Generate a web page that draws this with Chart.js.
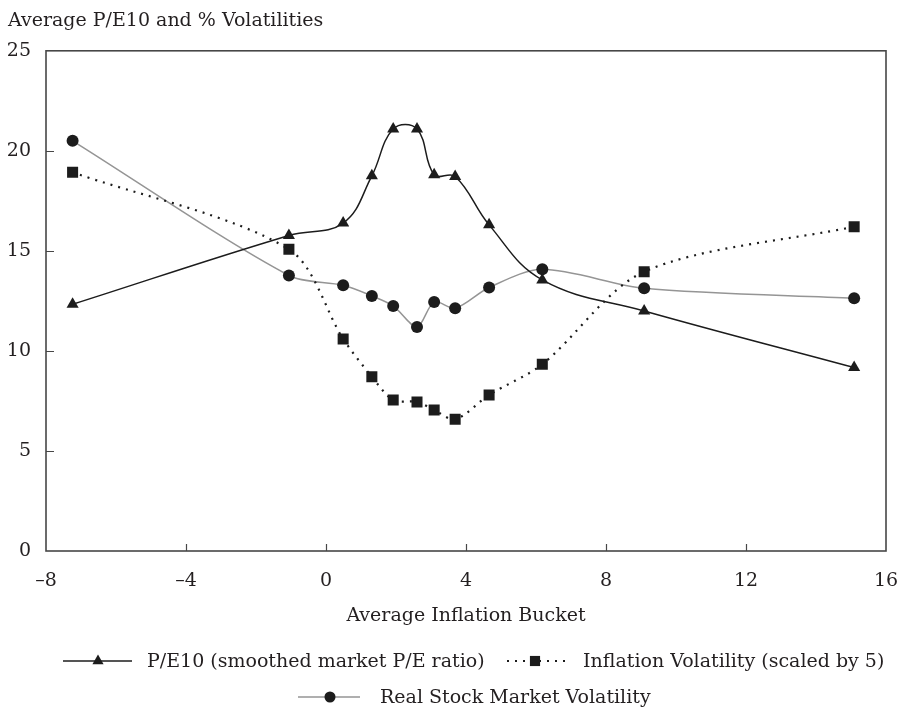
<!DOCTYPE html>
<html>
<head>
<meta charset="utf-8">
<title>Average P/E10 and % Volatilities</title>
<script src="https://cdn.jsdelivr.net/npm/chart.js@4/dist/chart.umd.min.js"></script>
<style>
  html, body { margin: 0; padding: 0; background: #ffffff; }
  #wrap { position: relative; width: 903px; height: 711px; }
</style>
</head>
<body>
<div id="wrap"><canvas id="chart"></canvas></div>
<script>
// Average inflation bucket (x) for each group of years
const inflationBuckets = [-7.24, -1.06, 0.49, 1.31, 1.92, 2.60, 3.09, 3.69, 4.66, 6.18, 9.09, 15.09];
// Series values per bucket
const peRatio            = [12.33, 15.77, 16.39, 18.75, 21.09, 21.09, 18.80, 18.72, 16.30, 13.55, 12.00, 9.17];
const inflationVolatility = [18.93, 15.08, 10.60, 8.71, 7.55, 7.45, 7.05, 6.58, 7.80, 9.33, 13.96, 16.21];
const stockVolatility    = [20.50, 13.77, 13.28, 12.75, 12.25, 11.20, 12.45, 12.13, 13.17, 14.08, 13.13, 12.63];
// Axis ticks
const xTicks = [-8, -4, 0, 4, 8, 12, 16];
const yTicks = [0, 5, 10, 15, 20, 25];
// Labels
const seriesNames = [
  'P/E10 (smoothed market P/E ratio)',
  'Inflation Volatility (scaled by 5)',
  'Real Stock Market Volatility'
];
const chartTitle = 'Average P/E10 and % Volatilities';
const xAxisTitle = 'Average Inflation Bucket';

const FONT = "'DejaVu Serif', 'Liberation Serif', serif";
const INK = '#231f20';
const MARK = '#1c1c1c';
const GREY = '#959595';
const FRAME = '#474747';

const toPoints = (ys) => inflationBuckets.map((x, i) => ({ x: x, y: ys[i] }));
const fmt = (v) => (v < 0 ? '\u2013' + Math.abs(v) : String(v));

Chart.defaults.font.family = FONT;
Chart.defaults.color = INK;

// Box around the plot plus inward tick marks on the left and bottom axes
const framePlugin = {
  id: 'frame',
  afterDraw(chart) {
    const { ctx, chartArea: a, scales } = chart;
    ctx.save();
    ctx.strokeStyle = FRAME;
    ctx.lineWidth = 1.6;
    ctx.strokeRect(a.left, a.top, a.right - a.left, a.bottom - a.top);
    ctx.lineWidth = 1.2;
    ctx.beginPath();
    yTicks.slice(1, -1).forEach(v => {
      const y = Math.round(scales.y.getPixelForValue(v)) + 0.5;
      ctx.moveTo(a.left, y); ctx.lineTo(a.left + 8, y);
    });
    xTicks.slice(1, -1).forEach(v => {
      const x = Math.round(scales.x.getPixelForValue(v)) + 0.5;
      ctx.moveTo(x, a.bottom); ctx.lineTo(x, a.bottom - 7);
    });
    ctx.stroke();
    ctx.restore();
  }
};

// Legend: line sample with marker, followed by the series name
function drawMarker(ctx, style, x, y, r) {
  ctx.beginPath();
  if (style === 'triangle') {
    ctx.moveTo(x, y - r);
    ctx.lineTo(x + r * 0.866, y + r * 0.5);
    ctx.lineTo(x - r * 0.866, y + r * 0.5);
    ctx.closePath();
  } else if (style === 'rect') {
    const s = r * Math.SQRT1_2;
    ctx.rect(x - s, y - s, 2 * s, 2 * s);
  } else {
    ctx.arc(x, y, r, 0, Math.PI * 2);
  }
  ctx.fill();
}

const legendPlugin = {
  id: 'sampleLegend',
  afterDraw(chart) {
    const { ctx } = chart;
    const items = [
      { ds: 0, x0: 63, x1: 132, mx: 98, tx: 147, y: 661 },
      { ds: 1, x0: 507, x1: 565, mx: 535, tx: 583, y: 661 },
      { ds: 2, x0: 298, x1: 360, mx: 330, tx: 380, y: 697 }
    ];
    ctx.save();
    items.forEach(it => {
      const d = chart.data.datasets[it.ds];
      ctx.strokeStyle = d.borderColor;
      ctx.lineWidth = d.borderWidth;
      ctx.setLineDash(d.borderDash || []);
      ctx.beginPath();
      ctx.moveTo(it.x0, it.y); ctx.lineTo(it.x1, it.y);
      ctx.stroke();
      ctx.setLineDash([]);
      ctx.fillStyle = d.pointBackgroundColor;
      drawMarker(ctx, d.pointStyle, it.mx, it.y, d.pointRadius * 0.92);
      ctx.fillStyle = INK;
      ctx.font = '19px ' + FONT;
      ctx.textBaseline = 'middle';
      ctx.textAlign = 'left';
      ctx.fillText(d.label, it.tx, it.y + 1);
    });
    ctx.restore();
  }
};

new Chart(document.getElementById('chart'), {
  type: 'line',
  data: {
    datasets: [
      {
        label: seriesNames[0],
        data: toPoints(peRatio),
        borderColor: MARK,
        borderWidth: 1.5,
        pointStyle: 'triangle',
        pointRadius: 7,
        pointBackgroundColor: MARK,
        pointBorderWidth: 0,
        tension: 0.4
      },
      {
        label: seriesNames[1],
        data: toPoints(inflationVolatility),
        borderColor: MARK,
        borderWidth: 2.2,
        borderDash: [2, 6],
        pointStyle: 'rect',
        pointRadius: 7.8,
        pointBackgroundColor: MARK,
        pointBorderWidth: 0,
        tension: 0.3
      },
      {
        label: seriesNames[2],
        data: toPoints(stockVolatility),
        borderColor: GREY,
        borderWidth: 1.5,
        pointStyle: 'circle',
        pointRadius: 6,
        pointBackgroundColor: MARK,
        pointBorderWidth: 0,
        tension: 0.3
      }
    ]
  },
  options: {
    responsive: true,
    maintainAspectRatio: false,
    animation: false,
    events: [],
    layout: { padding: { left: 8, right: 17, top: 0, bottom: 84 } },
    plugins: {
      legend: { display: false },
      tooltip: { enabled: false },
      title: {
        display: true,
        text: chartTitle,
        align: 'start',
        color: INK,
        font: { size: 19, weight: 'normal', family: FONT },
        padding: { top: 10, bottom: 18 }
      }
    },
    scales: {
      x: {
        type: 'linear',
        min: -8, max: 16,
        afterBuildTicks: (s) => { s.ticks = xTicks.map(v => ({ value: v })); },
        afterFit: (s) => { s.height = 76; s.paddingLeft = 0; s.paddingRight = 0; },
        grid: { display: false, drawTicks: false },
        border: { display: false },
        ticks: { padding: 19, font: { size: 19 }, color: INK, callback: (v) => fmt(v), maxRotation: 0, autoSkip: false },
        title: { display: true, text: xAxisTitle, color: INK, font: { size: 19 }, padding: { top: 0, bottom: 0 } }
      },
      y: {
        type: 'linear',
        min: 0, max: 25,
        afterBuildTicks: (s) => { s.ticks = yTicks.map(v => ({ value: v })); },
        afterFit: (s) => { s.width = 38; },
        grid: { display: false, drawTicks: false },
        border: { display: false },
        ticks: { padding: 15, font: { size: 19 }, color: INK, callback: (v) => fmt(v) }
      }
    }
  },
  plugins: [framePlugin, legendPlugin]
});
</script>
</body>
</html>
